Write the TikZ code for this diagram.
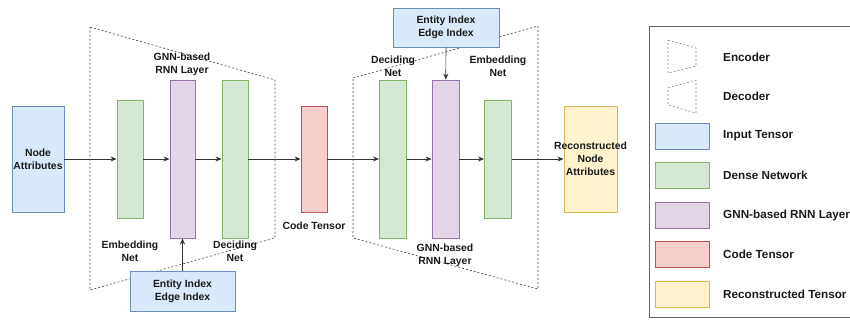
\documentclass[tikz,border=0pt]{standalone}
\usepackage{fontspec}
\setmainfont{Liberation Sans}
\usetikzlibrary{arrows.meta}
\definecolor{bfill}{HTML}{DAE8FC}\definecolor{bline}{HTML}{6C8EBF}
\definecolor{gfill}{HTML}{D5E8D4}\definecolor{gline}{HTML}{82B366}
\definecolor{pfill}{HTML}{E1D5E7}\definecolor{pline}{HTML}{9673A6}
\definecolor{rfill}{HTML}{F8CECC}\definecolor{rline}{HTML}{B85450}
\definecolor{yfill}{HTML}{FFF2CC}\definecolor{yline}{HTML}{D6B656}
\definecolor{ink}{HTML}{1A1A1A}
\tikzset{
  blk/.style={draw, line width=0.9pt, inner sep=0pt, font=\bfseries\fontsize{10.4}{13}\selectfont, text=ink, align=center},
  blue/.style={blk, fill=bfill, draw=bline},
  green/.style={blk, fill=gfill, draw=gline},
  purple/.style={blk, fill=pfill, draw=pline},
  red/.style={blk, fill=rfill, draw=rline},
  yellow/.style={blk, fill=yfill, draw=yline},
  lbl/.style={font=\bfseries\fontsize{10.4}{13}\selectfont, text=ink, align=center, inner sep=0pt},
  leg/.style={font=\bfseries\fontsize{11.7}{14}\selectfont, text=ink, anchor=west, inner sep=0pt},
  arr/.style={draw=black!80, line width=0.7pt, -{Stealth[length=6pt,width=5pt,inset=2pt]}},
  trap/.style={draw=black!75, line width=0.6pt, dash pattern=on 2pt off 2pt},
  legtrap/.style={draw=black!50, line width=0.6pt, dash pattern=on 2pt off 2pt},
}
\begin{document}
\begin{tikzpicture}[x=1pt,y=-1pt]
\useasboundingbox (0,0) rectangle (850,320);
% encoder / decoder outlines
\draw[trap] (90,27) -- (275,80) -- (275,238) -- (90,290) -- cycle;
\draw[trap] (353,78) -- (538,26) -- (538,289) -- (353,238) -- cycle;
% blocks
\node[blue, minimum width=52pt, minimum height=106pt] (na) at (38,159) {Node\\Attributes};
\node[green, minimum width=26pt, minimum height=118pt] (emb1) at (130,159) {};
\node[purple, minimum width=25pt, minimum height=158pt] (gnn1) at (182.5,159) {};
\node[green, minimum width=26pt, minimum height=158pt] (dec1) at (235,159) {};
\node[red, minimum width=26pt, minimum height=106pt] (code) at (314,159) {};
\node[green, minimum width=27pt, minimum height=158pt] (dec2) at (393,159) {};
\node[purple, minimum width=27pt, minimum height=158pt] (gnn2) at (445.5,159) {};
\node[green, minimum width=27pt, minimum height=118pt] (emb2) at (498,159) {};
\node[yellow, minimum width=53pt, minimum height=106pt] (rec) at (590.5,159) {};
\node[lbl] (rect) at (590.5,159) {Reconstructed\\Node\\Attributes};
\node[blue, minimum width=105pt, minimum height=40pt] (ent1) at (182.5,291) {Entity Index\\Edge Index};
\node[blue, minimum width=106pt, minimum height=39pt] (ent2) at (446,27.5) {Entity Index\\Edge Index};
% labels
\node[lbl] (l1) at (182,64) {GNN-based\\RNN Layer};
\node[lbl] (l2) at (130,251) {Embedding\\Net};
\node[lbl] (l3) at (235,251) {Deciding\\Net};
\node[lbl] (l4) at (314,226) {Code Tensor};
\node[lbl] (l5) at (393,66) {Deciding\\Net};
\node[lbl] (l6) at (498,66) {Embedding\\Net};
\node[lbl] (l7) at (445,255) {GNN-based\\RNN Layer};
% connectors
\draw[arr] (na) -- (emb1);
\draw[arr] (emb1) -- (gnn1);
\draw[arr] (gnn1) -- (dec1);
\draw[arr] (dec1) -- (code);
\draw[arr] (code) -- (dec2);
\draw[arr] (dec2) -- (gnn2);
\draw[arr] (gnn2) -- (emb2);
\draw[arr] (emb2) -- (rec);
\draw[arr] (ent1) -- (gnn1);
\draw[arr] (ent2) -- (gnn2);
% legend
\draw[draw=black!60, line width=0.9pt] (649,26) rectangle (860,317);
\draw[legtrap] (668,40) -- (696,48) -- (696,66) -- (668,73) -- cycle;
\draw[legtrap] (668,88) -- (696,80) -- (696,113) -- (668,105) -- cycle;
\node[blue, minimum width=54pt, minimum height=26pt] (k1) at (682,136) {};
\node[green, minimum width=54pt, minimum height=26pt] (k2) at (682,175) {};
\node[purple, minimum width=54pt, minimum height=26pt] (k3) at (682,215) {};
\node[red, minimum width=54pt, minimum height=26pt] (k4) at (682,254.5) {};
\node[yellow, minimum width=54pt, minimum height=26pt] (k5) at (682,294) {};
\node[leg] (t0) at (723,57) {Encoder};
\node[leg] (t1) at (723,96) {Decoder};
\node[leg] (t2) at (723,136) {Input Tensor};
\node[leg] (t3) at (723,175) {Dense Network};
\node[leg] (t4) at (723,215) {GNN-based RNN Layer};
\node[leg] (t5) at (723,254.5) {Code Tensor};
\node[leg] (t6) at (723,294) {Reconstructed Tensor};
\end{tikzpicture}
\end{document}
